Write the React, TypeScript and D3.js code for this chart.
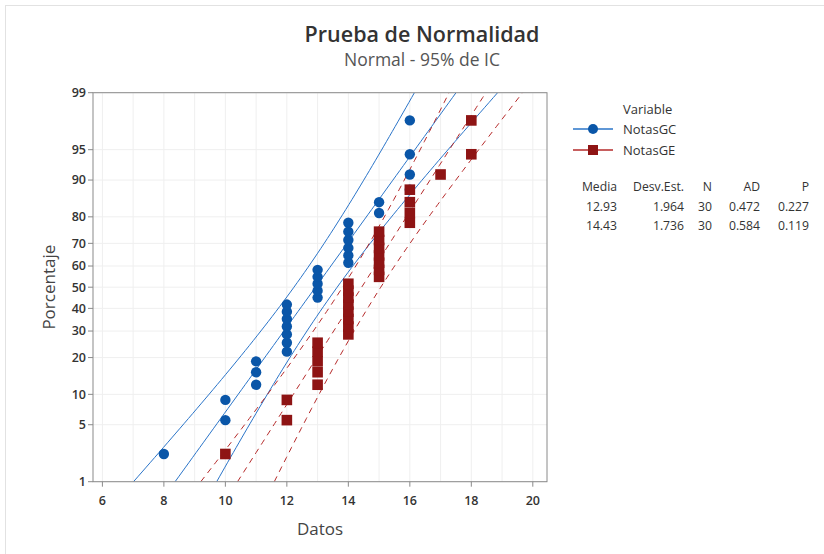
import React from "react";
import * as d3 from "d3";

// raw scores (ties stacked at the same x)
const notasGC = [8, 10, 10, 11, 11, 11, 12, 12, 12, 12, 12, 12, 12, 13, 13, 13, 13, 13, 14, 14, 14, 14, 14, 14, 15, 15, 16, 16, 16, 16];
const notasGE = [10, 12, 12, 13, 13, 13, 13, 13, 14, 14, 14, 14, 14, 14, 14, 14, 15, 15, 15, 15, 15, 15, 15, 16, 16, 16, 16, 17, 18, 18];

const seriesNames = ["NotasGC", "NotasGE"];
const tableHeaders = ["Media", "Desv.Est.", "N", "AD", "P"];
const tableRows = [
  ["12.93", "1.964", "30", "0.472", "0.227"],
  ["14.43", "1.736", "30", "0.584", "0.119"],
];
const pctTicks = [1, 5, 10, 20, 30, 40, 50, 60, 70, 80, 90, 95, 99];
const xTicks = [6, 8, 10, 12, 14, 16, 18, 20];

// inverse normal cdf (Acklam)
function qnorm(p: number): number {
  const a = [-39.69683028665376, 220.9460984245205, -275.9285104469687, 138.357751867269, -30.66479806614716, 2.506628277459239];
  const b = [-54.47609879822406, 161.5858368580409, -155.6989798598866, 66.80131188771972, -13.28068155288572];
  const c = [-0.007784894002430293, -0.3223964580411365, -2.400758277161838, -2.549732539343734, 4.374664141464968, 2.938163982698783];
  const d = [0.007784695709041462, 0.3224671290700398, 2.445134137142996, 3.754408661907416];
  const pl = 0.02425;
  if (p < pl || p > 1 - pl) {
    const q = Math.sqrt(-2 * Math.log(p < pl ? p : 1 - p));
    const v = (((((c[0] * q + c[1]) * q + c[2]) * q + c[3]) * q + c[4]) * q + c[5]) / ((((d[0] * q + d[1]) * q + d[2]) * q + d[3]) * q + 1);
    return p < pl ? v : -v;
  }
  const q = p - 0.5;
  const r = q * q;
  return ((((((a[0] * r + a[1]) * r + a[2]) * r + a[3]) * r + a[4]) * r + a[5]) * q) / (((((b[0] * r + b[1]) * r + b[2]) * r + b[3]) * r + b[4]) * r + 1);
}

const W = 824;
const H = 554;
const plot = { left: 93, right: 547, top: 92.7, bottom: 481.7 };
const zLo = qnorm(0.01);
const zHi = qnorm(0.99);

const x = d3.scaleLinear().domain([6, 20]).range([102.4, 532.8]);
const y = d3.scaleLinear().domain([zLo, zHi]).range([plot.bottom, plot.top]);

const font = "'Open Sans', 'Noto Sans', sans-serif";
const blue = "#0a56a8";
const blueLine = "#2a74c8";
const red = "#8e1414";
const redLine = "#b52a2a";

function buildSeries(data: number[]) {
  const sorted = [...data].sort((a, b) => a - b);
  const n = sorted.length;
  const mu = d3.mean(sorted) as number;
  const sd = d3.deviation(sorted) as number;
  const pts = sorted.map((v, i) => ({ v, z: qnorm((i + 1 - 0.3) / (n + 0.4)) }));
  const zs = d3.range(zLo, zHi + 0.001, (zHi - zLo) / 80);
  const half = (z: number) => 1.96 * sd * Math.sqrt(1 / n + (z * z) / (2 * n));
  const line = d3
    .line<[number, number]>()
    .x((d) => x(d[0]))
    .y((d) => y(d[1]));
  const fit = line(zs.map((z) => [mu + sd * z, z]));
  const lo = line(zs.map((z) => [mu + sd * z - half(z), z]));
  const hi = line(zs.map((z) => [mu + sd * z + half(z), z]));
  return { pts, fit, lo, hi };
}

const gc = buildSeries(notasGC);
const ge = buildSeries(notasGE);

export default function App() {
  const colX = [617, 684, 712, 760, 809];
  return (
    <svg width={W} height={H} style={{ position: "absolute", left: 0, top: 0, background: "#fff" }} fontFamily={font}>
      <defs>
        <clipPath id="plotClip">
          <rect x={plot.left} y={plot.top} width={plot.right - plot.left} height={plot.bottom - plot.top} />
        </clipPath>
      </defs>
      {/* outer frame */}
      <line x1={5} y1={5.5} x2={W} y2={5.5} stroke="#e2e2e2" />
      <line x1={5.5} y1={5} x2={5.5} y2={H} stroke="#e2e2e2" />

      <text x={422} y={42} textAnchor="middle" fontSize={21.5} fontWeight={600} fill="#333">
        Prueba de Normalidad
      </text>
      <text x={422} y={66} textAnchor="middle" fontSize={17.5} fill="#555">
        Normal - 95% de IC
      </text>

      {/* grid */}
      {d3.range(6, 21).map((v) => (
        <line key={"gx" + v} x1={x(v)} x2={x(v)} y1={plot.top} y2={plot.bottom} stroke="#efefef" />
      ))}
      {pctTicks.map((p) => (
        <line key={"gy" + p} x1={plot.left} x2={plot.right} y1={y(qnorm(p / 100))} y2={y(qnorm(p / 100))} stroke="#efefef" />
      ))}

      {/* fitted lines and confidence bands */}
      <g clipPath="url(#plotClip)" fill="none">
        {[gc.lo, gc.fit, gc.hi].map((d, i) => (
          <path key={"bl" + i} d={d || ""} stroke={blueLine} strokeWidth={1} />
        ))}
        {[ge.lo, ge.fit, ge.hi].map((d, i) => (
          <path key={"rl" + i} d={d || ""} stroke={redLine} strokeWidth={1} strokeDasharray="6,5" />
        ))}
      </g>

      {/* frame */}
      <rect x={plot.left} y={plot.top} width={plot.right - plot.left} height={plot.bottom - plot.top} fill="none" stroke="#8a8a8a" />

      {/* points */}
      {gc.pts.map((p, i) => (
        <circle key={"c" + i} cx={x(p.v)} cy={y(p.z)} r={5.2} fill={blue} />
      ))}
      {ge.pts.map((p, i) => (
        <rect key={"s" + i} x={x(p.v) - 5.3} y={y(p.z) - 5.3} width={10.6} height={10.6} fill={red} />
      ))}

      {/* y axis */}
      {pctTicks.map((p) => (
        <g key={"ty" + p} transform={`translate(0,${y(qnorm(p / 100))})`}>
          <line x1={plot.left - 5} x2={plot.left} stroke="#8a8a8a" />
          <text x={plot.left - 7} dy="0.35em" textAnchor="end" fontSize={12.5} fontWeight={600} fill="#333">
            {p}
          </text>
        </g>
      ))}
      {/* x axis */}
      {xTicks.map((v) => (
        <g key={"tx" + v} transform={`translate(${x(v)},0)`}>
          <line y1={plot.bottom} y2={plot.bottom + 5} stroke="#8a8a8a" />
          <text y={plot.bottom + 23} textAnchor="middle" fontSize={12.5} fontWeight={600} fill="#333">
            {v}
          </text>
        </g>
      ))}
      <text x={320} y={535} textAnchor="middle" fontSize={17} fill="#444">
        Datos
      </text>
      <text transform={`translate(55,${(plot.top + plot.bottom) / 2}) rotate(-90)`} textAnchor="middle" fontSize={17} fill="#444">
        Porcentaje
      </text>

      {/* legend */}
      <text x={623} y={114} fontSize={13} fill="#333">
        Variable
      </text>
      {seriesNames.map((name, i) => {
        const ly = 129 + i * 21;
        const c = i === 0 ? blueLine : redLine;
        return (
          <g key={name}>
            <line x1={573} x2={613} y1={ly} y2={ly} stroke={c} strokeWidth={1.5} />
            {i === 0 ? (
              <circle cx={593} cy={ly} r={5} fill={blue} />
            ) : (
              <rect x={588} y={ly - 5} width={10} height={10} fill={red} />
            )}
            <text x={623} y={ly} dy="0.35em" fontSize={13} fill="#333">
              {name}
            </text>
          </g>
        );
      })}

      {/* stats table */}
      {tableHeaders.map((h, i) => (
        <text key={h} x={colX[i]} y={191} textAnchor="end" fontSize={12.2} fill="#333">
          {h}
        </text>
      ))}
      {tableRows.map((row, r) =>
        row.map((v, i) => (
          <text key={r + "-" + i} x={colX[i]} y={210.5 + r * 19.5} textAnchor="end" fontSize={12.2} fill="#333">
            {v}
          </text>
        ))
      )}
    </svg>
  );
}
